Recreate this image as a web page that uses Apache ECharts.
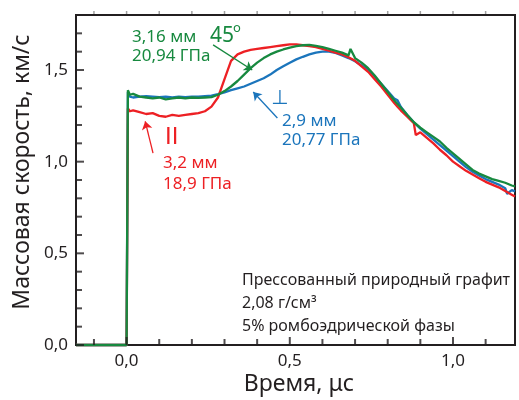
<!DOCTYPE html>
<html>
<head>
<meta charset="utf-8">
<script src="https://cdn.jsdelivr.net/npm/echarts@6/dist/echarts.min.js"></script>
<style>
html,body{margin:0;padding:0;background:#fff;}
#chart{width:519px;height:400px;}
</style>
</head>
<body>
<div id="chart"></div>
<script>
// ---- data (time in μs, mass velocity in km/s) ----
var timeUs = [-0.155, 0.0, 0.004, 0.01, 0.02, 0.04, 0.06, 0.08, 0.10, 0.12, 0.14, 0.16, 0.18, 0.20, 0.22, 0.24, 0.26, 0.28, 0.30, 0.32, 0.34, 0.36, 0.38, 0.40, 0.42, 0.44, 0.46, 0.48, 0.50, 0.52, 0.54, 0.56, 0.58, 0.60, 0.62, 0.64, 0.66, 0.68, 0.686, 0.70, 0.72, 0.74, 0.76, 0.78, 0.80, 0.82, 0.83, 0.84, 0.86, 0.88, 0.886, 0.90, 0.92, 0.94, 0.96, 0.98, 1.00, 1.02, 1.04, 1.06, 1.08, 1.10, 1.12, 1.14, 1.16, 1.166, 1.18, 1.19];

var velParallel = [0, 0, 1.29, 1.275, 1.28, 1.27, 1.26, 1.265, 1.25, 1.245, 1.255, 1.25, 1.255, 1.26, 1.265, 1.275, 1.30, 1.35, 1.45, 1.55, 1.585, 1.60, 1.61, 1.615, 1.62, 1.625, 1.63, 1.635, 1.64, 1.64, 1.635, 1.63, 1.625, 1.615, 1.605, 1.595, 1.585, 1.57, 1.565, 1.55, 1.52, 1.49, 1.45, 1.41, 1.365, 1.32, 1.30, 1.28, 1.245, 1.21, 1.145, 1.16, 1.13, 1.10, 1.065, 1.035, 1.0, 0.975, 0.95, 0.93, 0.91, 0.89, 0.875, 0.86, 0.84, 0.835, 0.82, 0.81];

var velPerp = [0, 0, 1.38, 1.355, 1.35, 1.355, 1.358, 1.355, 1.352, 1.355, 1.35, 1.355, 1.352, 1.355, 1.355, 1.358, 1.36, 1.368, 1.378, 1.39, 1.40, 1.41, 1.425, 1.44, 1.455, 1.475, 1.50, 1.52, 1.54, 1.558, 1.572, 1.585, 1.595, 1.60, 1.60, 1.593, 1.58, 1.565, 1.56, 1.548, 1.525, 1.50, 1.465, 1.425, 1.385, 1.345, 1.335, 1.30, 1.255, 1.215, 1.21, 1.18, 1.15, 1.12, 1.09, 1.06, 1.03, 1.0, 0.97, 0.945, 0.925, 0.905, 0.89, 0.875, 0.855, 0.825, 0.845, 0.838];

var vel45 = [0, 0, 1.39, 1.365, 1.37, 1.355, 1.35, 1.345, 1.35, 1.34, 1.345, 1.35, 1.345, 1.35, 1.348, 1.35, 1.352, 1.365, 1.385, 1.41, 1.44, 1.475, 1.51, 1.54, 1.565, 1.585, 1.60, 1.612, 1.622, 1.63, 1.635, 1.637, 1.632, 1.625, 1.615, 1.605, 1.595, 1.58, 1.615, 1.565, 1.54, 1.51, 1.47, 1.425, 1.38, 1.335, 1.315, 1.295, 1.255, 1.215, 1.205, 1.185, 1.16, 1.135, 1.11, 1.075, 1.045, 1.015, 0.985, 0.955, 0.935, 0.92, 0.905, 0.895, 0.885, 0.875, 0.87, 0.865];

var xMajorTicks = [0, 0.5, 1.0];
var xMinorTicks = [-0.1, 0.1, 0.2, 0.3, 0.4, 0.6, 0.7, 0.8, 0.9, 1.1];
var xTopTicks = [-0.1, 0, 0.1, 0.2, 0.3, 0.4, 0.5, 0.6, 0.7, 0.8, 0.9, 1.0, 1.1];
var yMajorTicks = [0, 0.5, 1.0, 1.5];
var yMinorTicks = [0.1, 0.2, 0.3, 0.4, 0.6, 0.7, 0.8, 0.9, 1.1, 1.2, 1.3, 1.4, 1.6, 1.7];

var X_MIN = -0.155, X_MAX = 1.19, Y_MIN = 0, Y_MAX = 1.8;

// annotation arrows in data coords [from, to]
var arrowParallel = [[0.081, 1.047], [0.057, 1.22]];
var arrowPerp = [[0.462, 1.238], [0.388, 1.38]];
var arrow45 = [[0.265, 1.637], [0.385, 1.50]];

var RED = '#ed2024', BLUE = '#1b75bc', GREEN = '#17893f', INK = '#231f20';
var FONT = '"Noto Sans", "DejaVu Sans", sans-serif';

function pairs(v) { return timeUs.map(function (t, i) { return [t, v[i]]; }); }
function comma(v) { return v.toFixed(1).replace('.', ','); }
function arrow(a, color) {
  return {
    silent: true, symbol: ['none', 'arrow'], symbolSize: 8, animation: false,
    label: {show: false}, lineStyle: {color: color, width: 1.3, type: 'solid'},
    data: [[{coord: a[0]}, {coord: a[1]}]]
  };
}
// tick marks drawn as small rect symbols placed by the axis scales
function tickSeries(points, size, offset, color) {
  return {type: 'scatter', data: points, symbol: 'rect', symbolSize: size, symbolOffset: offset,
          itemStyle: {color: color}, clip: false, z: 6, silent: true};
}

var texts = [
  {type: 'text', x: 22, y: 172, rotation: Math.PI / 2,
   style: {text: 'Массовая скорость, км/с', font: '23px ' + FONT, fill: INK, align: 'center', verticalAlign: 'middle'}},
  {type: 'text', x: 299, y: 384,
   style: {text: 'Время, μс', font: '23px ' + FONT, fill: INK, align: 'center', verticalAlign: 'middle'}},
  {type: 'text', x: 132, y: 37, style: {text: '3,16 мм', font: '17px ' + FONT, fill: GREEN, align: 'left', verticalAlign: 'middle'}},
  {type: 'text', x: 132, y: 56, style: {text: '20,94 ГПа', font: '17px ' + FONT, fill: GREEN, align: 'left', verticalAlign: 'middle'}},
  {type: 'text', x: 210, y: 36, style: {text: '45', font: '21px ' + FONT, fill: GREEN, align: 'left', verticalAlign: 'middle'}},
  {type: 'text', x: 233, y: 28, style: {text: 'o', font: '13px ' + FONT, fill: GREEN, align: 'left', verticalAlign: 'middle'}},
  {type: 'text', x: 165, y: 137, style: {text: 'II', font: '24px "Liberation Sans", sans-serif', fill: RED, align: 'left', verticalAlign: 'middle'}},
  {type: 'text', x: 163, y: 163, style: {text: '3,2 мм', font: '17px ' + FONT, fill: RED, align: 'left', verticalAlign: 'middle'}},
  {type: 'text', x: 163, y: 184, style: {text: '18,9 ГПа', font: '17px ' + FONT, fill: RED, align: 'left', verticalAlign: 'middle'}},
  {type: 'text', x: 271, y: 99, style: {text: '⊥', font: '20px "DejaVu Sans", sans-serif', fill: BLUE, align: 'left', verticalAlign: 'middle'}},
  {type: 'text', x: 282, y: 121, style: {text: '2,9 мм', font: '17px ' + FONT, fill: BLUE, align: 'left', verticalAlign: 'middle'}},
  {type: 'text', x: 282, y: 140, style: {text: '20,77 ГПа', font: '17px ' + FONT, fill: BLUE, align: 'left', verticalAlign: 'middle'}},
  {type: 'text', x: 242, y: 280, style: {text: 'Прессованный природный графит', font: '16px ' + FONT, fill: INK, align: 'left', verticalAlign: 'middle'}},
  {type: 'text', x: 242, y: 303, style: {text: '2,08 г/см³', font: '16px ' + FONT, fill: INK, align: 'left', verticalAlign: 'middle'}},
  {type: 'text', x: 242, y: 326, style: {text: '5% ромбоэдрической фазы', font: '16px ' + FONT, fill: INK, align: 'left', verticalAlign: 'middle'}}
];

var chart = echarts.init(document.getElementById('chart'), null, {renderer: 'canvas'});
chart.setOption({
  animation: false,
  backgroundColor: '#fff',
  grid: {left: 76, right: 4, top: 15, bottom: 55, show: true, borderColor: INK, borderWidth: 2, backgroundColor: 'transparent'},
  xAxis: {type: 'value', min: X_MIN, max: X_MAX,
     axisLine: {onZero: false, lineStyle: {color: INK, width: 2}},
     axisTick: {show: false},
     axisLabel: {customValues: xMajorTicks, formatter: comma, fontSize: 17, fontFamily: FONT, color: INK, margin: 8},
     splitLine: {show: false}},
  yAxis: {type: 'value', min: Y_MIN, max: Y_MAX,
     axisLine: {show: true, onZero: false, lineStyle: {color: INK, width: 2}},
     axisTick: {show: false},
     axisLabel: {customValues: yMajorTicks, formatter: comma, fontSize: 17, fontFamily: FONT, color: INK, margin: 8},
     splitLine: {show: false}},
  series: [
    tickSeries(xMajorTicks.map(function (v) { return [v, Y_MIN]; }), [2, 8], [0, -4], INK),
    tickSeries(xMinorTicks.map(function (v) { return [v, Y_MIN]; }), [2, 6], [0, -3], INK),
    tickSeries(xTopTicks.map(function (v) { return [v, Y_MAX]; }), [1.5, 3], [0, -2.5], '#888'),
    tickSeries(yMajorTicks.map(function (v) { return [X_MIN, v]; }), [8, 2], [4, 0], INK),
    tickSeries(yMinorTicks.map(function (v) { return [X_MIN, v]; }), [6, 2], [3, 0], INK),
    {name: '⊥', type: 'line', data: pairs(velPerp), showSymbol: false, clip: false,
     lineStyle: {color: BLUE, width: 2.3}, z: 3, markLine: arrow(arrowPerp, BLUE)},
    {name: 'II', type: 'line', data: pairs(velParallel), showSymbol: false, clip: false,
     lineStyle: {color: RED, width: 2.3}, z: 4, markLine: arrow(arrowParallel, RED)},
    {name: '45°', type: 'line', data: pairs(vel45), showSymbol: false, clip: false,
     lineStyle: {color: GREEN, width: 2.3}, z: 5, markLine: arrow(arrow45, GREEN)}
  ],
  graphic: texts
});
</script>
</body>
</html>
